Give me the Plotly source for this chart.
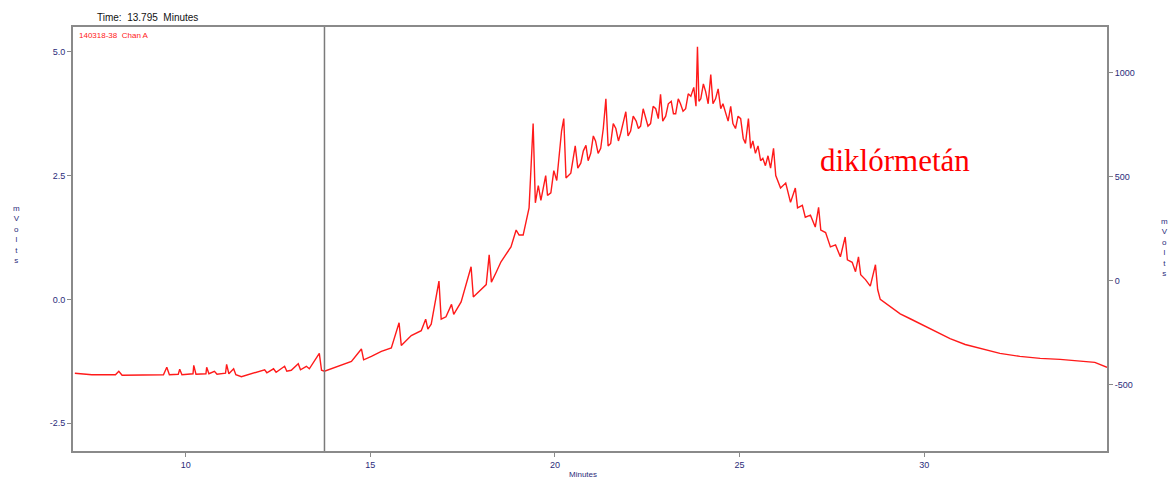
import plotly.graph_objects as go

# retention time (minutes)
time_min = [
    7.00, 7.46, 8.10, 8.19, 8.28, 9.08, 9.40, 9.49, 9.56, 9.80, 9.84, 9.90,
    10.20, 10.22, 10.28, 10.55, 10.57, 10.63, 10.78, 10.85, 11.08, 11.11, 11.17,
    11.30, 11.36, 11.51, 11.78, 11.90, 12.14, 12.20, 12.38, 12.45, 12.68, 12.74,
    12.86, 13.05, 13.11, 13.27, 13.35, 13.62, 13.68, 13.76, 13.95, 14.22, 14.49,
    14.76, 14.82, 15.03, 15.30, 15.57, 15.78, 15.84, 15.97, 16.11, 16.38, 16.50,
    16.56, 16.65, 16.86, 16.92, 17.05, 17.20, 17.26, 17.46, 17.73, 17.79, 17.86,
    18.14, 18.22, 18.28, 18.41, 18.54, 18.81, 18.95, 19.03, 19.14, 19.30, 19.41,
    19.47, 19.55, 19.62, 19.75, 19.80, 19.89, 19.97, 20.05, 20.18, 20.24, 20.30,
    20.43, 20.55, 20.62, 20.70, 20.77, 20.84, 20.90, 20.97, 21.04, 21.10, 21.17,
    21.24, 21.31, 21.38, 21.44, 21.51, 21.58, 21.65, 21.72, 21.78, 21.85, 21.92,
    21.98, 22.05, 22.12, 22.20, 22.26, 22.32, 22.39, 22.45, 22.52, 22.59, 22.66,
    22.73, 22.80, 22.86, 22.92, 23.00, 23.07, 23.15, 23.21, 23.27, 23.34, 23.40,
    23.47, 23.54, 23.61, 23.68, 23.76, 23.82, 23.86, 23.90, 23.95, 24.02, 24.08,
    24.15, 24.22, 24.28, 24.35, 24.42, 24.49, 24.55, 24.62, 24.69, 24.76, 24.82,
    24.89, 24.96, 25.03, 25.10, 25.16, 25.24, 25.30, 25.36, 25.43, 25.50, 25.57,
    25.63, 25.70, 25.77, 25.84, 25.92, 25.98, 26.11, 26.25, 26.38, 26.51, 26.57,
    26.70, 26.78, 26.92, 27.05, 27.14, 27.20, 27.33, 27.46, 27.60, 27.73, 27.86,
    27.92, 28.05, 28.14, 28.22, 28.28, 28.41, 28.54, 28.68, 28.74, 28.81, 29.08,
    29.35, 29.62, 29.89, 30.30, 30.70, 31.11, 31.51, 32.05, 32.59, 33.14, 33.68,
    34.22, 34.62, 34.95,
]

# detector signal (left axis units)
signal = [
    -1.49, -1.52, -1.52, -1.45, -1.53, -1.53, -1.52, -1.37, -1.52, -1.51, -1.41, -1.52,
    -1.50, -1.33, -1.51, -1.50, -1.37, -1.50, -1.45, -1.51, -1.49, -1.31, -1.50,
    -1.40, -1.52, -1.56, -1.50, -1.47, -1.42, -1.48, -1.40, -1.47, -1.35, -1.45,
    -1.43, -1.30, -1.42, -1.35, -1.40, -1.09, -1.43, -1.45, -1.40, -1.33, -1.25,
    -1.00, -1.22, -1.15, -1.05, -0.98, -0.47, -0.93, -0.83, -0.73, -0.63, -0.40,
    -0.60, -0.50, 0.37, -0.40, -0.35, -0.10, -0.30, -0.05, 0.66, 0.05, 0.10,
    0.30, 0.90, 0.35, 0.55, 0.76, 1.06, 1.40, 1.30, 1.30, 1.85, 3.55,
    1.95, 2.30, 2.00, 2.50, 2.10, 2.15, 2.60, 2.40, 3.40, 3.65, 2.45,
    2.55, 3.10, 2.65, 2.75, 3.00, 3.11, 2.80, 2.95, 3.30, 3.20, 2.95,
    3.05, 3.45, 4.05, 3.10, 3.15, 3.55, 3.45, 3.20, 3.35, 3.60, 3.79,
    3.30, 3.40, 3.70, 3.60, 3.45, 3.50, 3.85, 3.70, 3.50, 3.55, 3.90,
    3.85, 3.65, 4.14, 3.60, 3.70, 3.95, 4.00, 3.75, 3.75, 4.05, 3.95,
    3.80, 3.85, 4.15, 4.10, 4.28, 3.90, 5.10, 4.00, 4.05, 4.35, 4.20,
    3.95, 4.54, 3.95, 4.05, 4.25, 3.85, 3.95, 3.75, 3.60, 3.90, 3.55,
    3.45, 3.70, 3.65, 3.25, 3.15, 3.65, 3.05, 3.20, 2.95, 3.10, 2.80,
    2.85, 2.70, 2.90, 2.65, 3.05, 2.50, 2.25, 2.35, 1.96, 2.25, 1.85,
    1.90, 1.66, 1.70, 1.46, 1.86, 1.40, 1.35, 1.06, 1.10, 0.86, 1.26,
    0.80, 0.75, 0.56, 0.86, 0.50, 0.40, 0.27, 0.70, 0.20, 0.00, -0.15,
    -0.29, -0.39, -0.49, -0.65, -0.79, -0.91, -0.99, -1.09, -1.15, -1.19, -1.21,
    -1.25, -1.27, -1.37,
]

x_ticks = [10, 15, 20, 25, 30, 35]
x_tick_text = ["10", "15", "20", "25", "30", "35"]
y_ticks = [5.0, 2.5, 0.0, -2.5]
y_tick_text = ["5.0", "2.5", "0.0", "-2.5"]
y2_ticks = [1000, 500, 0, -500]
y2_tick_text = ["1000", "500", "0", "-500"]

cursor_time = 13.76

navy = "#2b2b7a"
axis_col = "#8a8a8a"

fig = go.Figure()
fig.add_trace(go.Scatter(x=time_min, y=signal, mode="lines",
                         line=dict(color="#ff1a1a", width=1.4),
                         showlegend=False, hoverinfo="skip"))
fig.add_trace(go.Scatter(x=[x_ticks[0]], y=[y2_ticks[2]], yaxis="y2", mode="markers",
                         marker=dict(opacity=0), showlegend=False, hoverinfo="skip"))

fig.add_shape(type="line", xref="x", yref="paper", x0=cursor_time, x1=cursor_time,
              y0=0, y1=1, line=dict(color="#7a7a7a", width=1.5))

fig.update_layout(
    width=1173, height=482,
    margin=dict(l=73, r=66, t=27, b=25),
    paper_bgcolor="white", plot_bgcolor="white",
    font=dict(family="Liberation Sans", size=9, color=navy),
    xaxis=dict(range=[6.95, 34.95], tickvals=x_ticks, ticktext=x_tick_text,
               showgrid=False, zeroline=False, showline=True, linecolor=axis_col,
               linewidth=2, mirror=True, ticks="outside", ticklen=4, tickcolor=axis_col,
               tickfont=dict(size=9, color=navy)),
    yaxis=dict(range=[-3.06, 5.5], tickvals=y_ticks, ticktext=y_tick_text,
               showgrid=False, zeroline=False, showline=True, linecolor=axis_col,
               linewidth=2, ticks="outside", ticklen=4, tickcolor=axis_col,
               tickfont=dict(size=9, color=navy)),
    yaxis2=dict(range=[-817, 1218], tickvals=y2_ticks, ticktext=y2_tick_text,
                overlaying="y", side="right", showgrid=False, zeroline=False,
                showline=True, linecolor=axis_col, linewidth=2, ticks="outside",
                ticklen=4, tickcolor=axis_col, tickfont=dict(size=9, color=navy)),
)

fig.add_annotation(text="Time:  13.795  Minutes", xref="paper", yref="paper",
                   x=0.021, y=1.005, xanchor="left", yanchor="bottom", showarrow=False,
                   font=dict(family="Liberation Sans", size=10, color="#111111"))
fig.add_annotation(text="140318-38  Chan A", xref="paper", yref="paper",
                   x=0.004, y=0.995, xanchor="left", yanchor="top", showarrow=False,
                   font=dict(family="Liberation Sans", size=8, color="#ff2020"))
fig.add_annotation(text="diklórmetán", xref="paper", yref="paper",
                   x=0.7205, y=0.686, xanchor="left", yanchor="middle", showarrow=False,
                   font=dict(family="Liberation Serif", size=31, color="#ff0000"))
fig.add_annotation(text="Minutes", xref="paper", yref="paper",
                   x=0.493, y=-0.04, xanchor="center", yanchor="top", showarrow=False,
                   font=dict(family="Liberation Sans", size=8, color=navy))
fig.add_annotation(text="m<br>V<br>o<br>l<br>t<br>s", xref="paper", yref="paper",
                   x=-0.055, y=0.51, xanchor="center", yanchor="middle", showarrow=False,
                   font=dict(family="Liberation Sans", size=8, color=navy))
fig.add_annotation(text="m<br>V<br>o<br>l<br>t<br>s", xref="paper", yref="paper",
                   x=1.056, y=0.48, xanchor="center", yanchor="middle", showarrow=False,
                   font=dict(family="Liberation Sans", size=8, color=navy))

fig.write_html("out.html")
